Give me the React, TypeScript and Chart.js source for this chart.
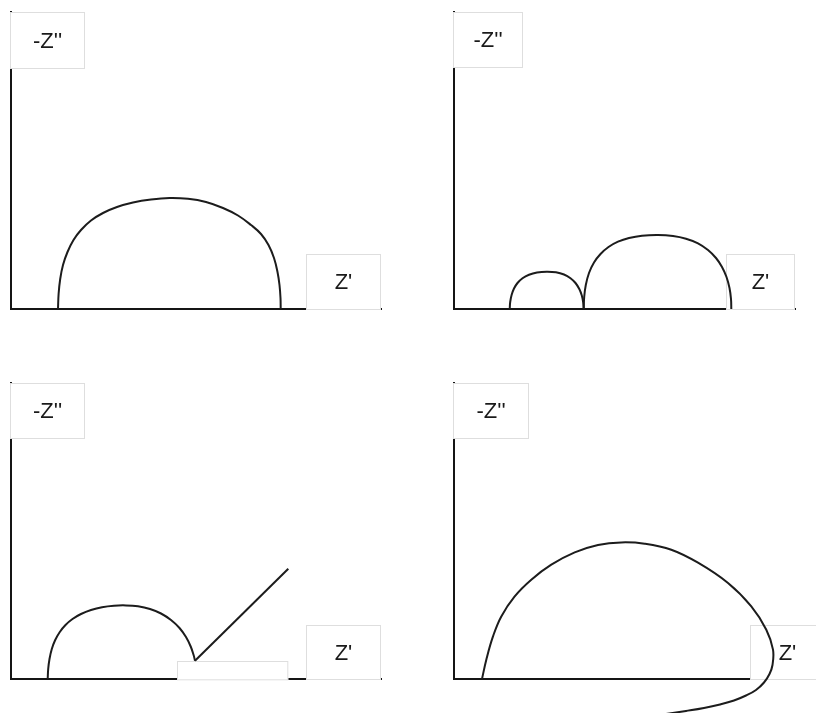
import { useEffect, useRef } from "react";
import { Chart, registerables } from "chart.js";

Chart.register(...registerables);

type Pt = { x: number; y: number };

// Nyquist traces: Z' along x, -Z'' along y (arbitrary impedance units)
const singleArc: Pt[] = [
  { x: 47, y: 0 }, { x: 47.6, y: 15 }, { x: 49.2, y: 30 }, { x: 52, y: 44 },
  { x: 56.5, y: 57 }, { x: 62.5, y: 69 }, { x: 70, y: 79 }, { x: 80, y: 88.5 },
  { x: 92, y: 96 }, { x: 106, y: 102 }, { x: 122, y: 106.5 }, { x: 140, y: 109.5 },
  { x: 158.5, y: 111 }, { x: 177, y: 110.2 }, { x: 195, y: 107 }, { x: 212, y: 101 },
  { x: 227, y: 93.5 }, { x: 240, y: 84 }, { x: 250, y: 75 }, { x: 257.5, y: 64 },
  { x: 263, y: 51 }, { x: 266.5, y: 37 }, { x: 268.5, y: 24 }, { x: 269.5, y: 11 },
  { x: 269.7, y: 0 },
];

const firstArc: Pt[] = [
  { x: 55.7, y: 0 }, { x: 56.2, y: 7 }, { x: 57.6, y: 14 }, { x: 60, y: 20.5 },
  { x: 63.5, y: 26 }, { x: 68.5, y: 30.8 }, { x: 75, y: 34.3 }, { x: 83, y: 36.5 },
  { x: 92.7, y: 37.3 }, { x: 102, y: 36.7 }, { x: 110, y: 34.5 }, { x: 116.5, y: 30.8 },
  { x: 121.5, y: 26 }, { x: 125.3, y: 20 }, { x: 127.8, y: 13.5 }, { x: 129.2, y: 6.5 },
  { x: 129.7, y: 0 },
];

const secondArc: Pt[] = [
  { x: 129.7, y: 0 }, { x: 130.2, y: 12 }, { x: 131.8, y: 24 }, { x: 135, y: 36 },
  { x: 140, y: 46.5 }, { x: 146.5, y: 55 }, { x: 154.5, y: 62 }, { x: 164, y: 67.3 },
  { x: 175, y: 71 }, { x: 188, y: 73.3 }, { x: 204, y: 74 }, { x: 219, y: 73 },
  { x: 232, y: 70.3 }, { x: 244, y: 65.7 }, { x: 254, y: 59 }, { x: 262, y: 51 },
  { x: 268, y: 42 }, { x: 272.5, y: 32 }, { x: 275.5, y: 21 }, { x: 277, y: 10 },
  { x: 277.3, y: 0 },
];

const chargeTransferArc: Pt[] = [
  { x: 36.7, y: 0 }, { x: 37.2, y: 10 }, { x: 38.5, y: 20 }, { x: 40.8, y: 30 },
  { x: 44.2, y: 39 }, { x: 48.8, y: 47 }, { x: 54.5, y: 54 }, { x: 61.5, y: 60 },
  { x: 70, y: 65 }, { x: 80, y: 69 }, { x: 91, y: 71.8 }, { x: 103, y: 73.3 },
  { x: 115, y: 73.6 }, { x: 127, y: 72.7 }, { x: 139, y: 70 }, { x: 150, y: 65.5 },
  { x: 160, y: 59 }, { x: 168.5, y: 51 }, { x: 175, y: 42 }, { x: 179.7, y: 32.5 },
  { x: 182.6, y: 24 }, { x: 184, y: 18.3 },
];

const warburgTail: Pt[] = [
  { x: 184, y: 18.3 }, { x: 277.3, y: 110.3 },
];

const inductiveLoop: Pt[] = [
  { x: 28, y: 0 }, { x: 32.3, y: 19.3 }, { x: 39, y: 42.6 }, { x: 47.3, y: 62.6 },
  { x: 60.7, y: 82.6 }, { x: 77.3, y: 99.3 }, { x: 97.3, y: 114.3 }, { x: 120.7, y: 126.6 },
  { x: 144, y: 134 }, { x: 167.3, y: 136.6 }, { x: 190.7, y: 135.3 }, { x: 217.3, y: 129.3 },
  { x: 244, y: 116.3 }, { x: 274, y: 96 }, { x: 297.3, y: 72.6 }, { x: 312.3, y: 49.3 },
  { x: 319, y: 29.3 }, { x: 318.5, y: 14 }, { x: 315.5, y: 5 }, { x: 310, y: -3.5 },
  { x: 302, y: -11 }, { x: 292, y: -16.5 }, { x: 280, y: -21.5 }, { x: 266, y: -25.5 },
  { x: 250, y: -29 }, { x: 232, y: -32 }, { x: 212, y: -35 }, { x: 195, y: -37.5 },
];

const yLabel = "-Z''";
const xLabel = "Z'";

interface Series { points: Pt[]; tension: number }
interface Panel {
  left: number; top: number; width: number; height: number;
  pad: { left: number; top: number; right: number; bottom: number };
  xMax: number; yMax: number;
  series: Series[];
  yBox: { w: number; h: number };
  xBox: { dx: number; w: number; h: number };
  gapBox?: boolean;
}

const panels: Panel[] = [
  {
    left: 0, top: 0, width: 408, height: 340,
    pad: { left: 11, top: 12, right: 27, bottom: 31 },
    xMax: 370, yMax: 297,
    series: [{ points: singleArc, tension: 0.4 }],
    yBox: { w: 74, h: 57 }, xBox: { dx: 295, w: 75, h: 56 },
  },
  {
    left: 408, top: 0, width: 408, height: 340,
    pad: { left: 46, top: 12, right: 21, bottom: 31 },
    xMax: 341, yMax: 297,
    series: [
      { points: firstArc, tension: 0.4 },
      { points: secondArc, tension: 0.4 },
    ],
    yBox: { w: 69, h: 56 }, xBox: { dx: 272, w: 69, h: 56 },
  },
  {
    left: 0, top: 360, width: 408, height: 353,
    pad: { left: 11, top: 23, right: 27, bottom: 34 },
    xMax: 370, yMax: 296,
    series: [
      { points: chargeTransferArc, tension: 0.4 },
      { points: warburgTail, tension: 0 },
    ],
    yBox: { w: 74, h: 56 }, xBox: { dx: 295, w: 75, h: 55 },
    gapBox: true,
  },
  {
    left: 408, top: 360, width: 408, height: 353,
    pad: { left: 46, top: 23, right: 0, bottom: 34 },
    xMax: 362, yMax: 296,
    series: [{ points: inductiveLoop, tension: 0.4 }],
    yBox: { w: 75, h: 56 }, xBox: { dx: 296, w: 75, h: 55 },
  },
];

const LABEL_FONT = '22px "Liberation Sans", Arial, sans-serif';

function drawBox(ctx: CanvasRenderingContext2D, x: number, y: number, w: number, h: number, text?: string) {
  ctx.fillStyle = "#ffffff";
  ctx.fillRect(x, y, w, h);
  ctx.strokeStyle = "#dedede";
  ctx.lineWidth = 1;
  ctx.strokeRect(Math.round(x) + 0.5, Math.round(y) + 0.5, w - 1, h - 1);
  if (text) {
    ctx.fillStyle = "#1a1a1a";
    ctx.font = LABEL_FONT;
    ctx.textAlign = "center";
    ctx.textBaseline = "middle";
    ctx.fillText(text, x + w / 2, y + h / 2 + 1);
  }
}

// White label boxes that sit on top of the axes but under the traces
const labelBoxes = {
  id: "labelBoxes",
  beforeDatasetsDraw(chart: any, _args: any, opts: any) {
    const p: Panel = opts.panel;
    const { ctx, chartArea: a } = chart;
    ctx.save();
    if (p.gapBox) {
      const xs = chart.scales.x;
      const ys = chart.scales.y;
      const x0 = xs.getPixelForValue(warburgTail[0].x);
      const x1 = xs.getPixelForValue(warburgTail[warburgTail.length - 1].x);
      const yTop = ys.getPixelForValue(warburgTail[0].y);
      drawBox(ctx, x0 - 18, yTop, x1 - x0 + 18, a.bottom - yTop + 1);
    }
    drawBox(ctx, a.left - 1, a.top, p.yBox.w + 1, p.yBox.h, yLabel);
    drawBox(ctx, a.left + p.xBox.dx, a.bottom - p.xBox.h + 1, p.xBox.w, p.xBox.h, xLabel);
    ctx.restore();
  },
};

function NyquistPanel({ panel }: { panel: Panel }) {
  const ref = useRef<HTMLCanvasElement>(null);
  useEffect(() => {
    if (!ref.current) return;
    const axis = (max: number) => ({
      type: "linear" as const,
      min: 0,
      max,
      grid: { display: false, drawTicks: false },
      ticks: { display: false },
      border: { display: true, color: "#151515", width: 2 },
    });
    const chart = new Chart(ref.current, {
      type: "line",
      data: {
        datasets: panel.series.map((s) => ({
          data: s.points,
          borderColor: "#1c1c1c",
          borderWidth: 2,
          pointRadius: 0,
          tension: s.tension,
          fill: false,
          clip: false as any,
        })),
      },
      options: {
        responsive: false,
        animation: false,
        devicePixelRatio: 1,
        layout: { padding: panel.pad },
        elements: { line: { capBezierPoints: false } },
        scales: { x: axis(panel.xMax), y: axis(panel.yMax) },
        plugins: {
          legend: { display: false },
          tooltip: { enabled: false },
          labelBoxes: { panel },
        } as any,
        events: [],
      },
      plugins: [labelBoxes],
    });
    return () => chart.destroy();
  }, [panel]);
  return (
    <canvas
      ref={ref}
      width={panel.width}
      height={panel.height}
      style={{
        position: "absolute",
        left: panel.left,
        top: panel.top,
        width: panel.width,
        height: panel.height,
      }}
    />
  );
}

export default function App() {
  return (
    <div
      style={{
        position: "absolute",
        left: 0,
        top: 0,
        width: 816,
        height: 713,
        background: "#ffffff",
        overflow: "hidden",
      }}
    >
      {panels.map((p, i) => (
        <NyquistPanel key={i} panel={p} />
      ))}
    </div>
  );
}
